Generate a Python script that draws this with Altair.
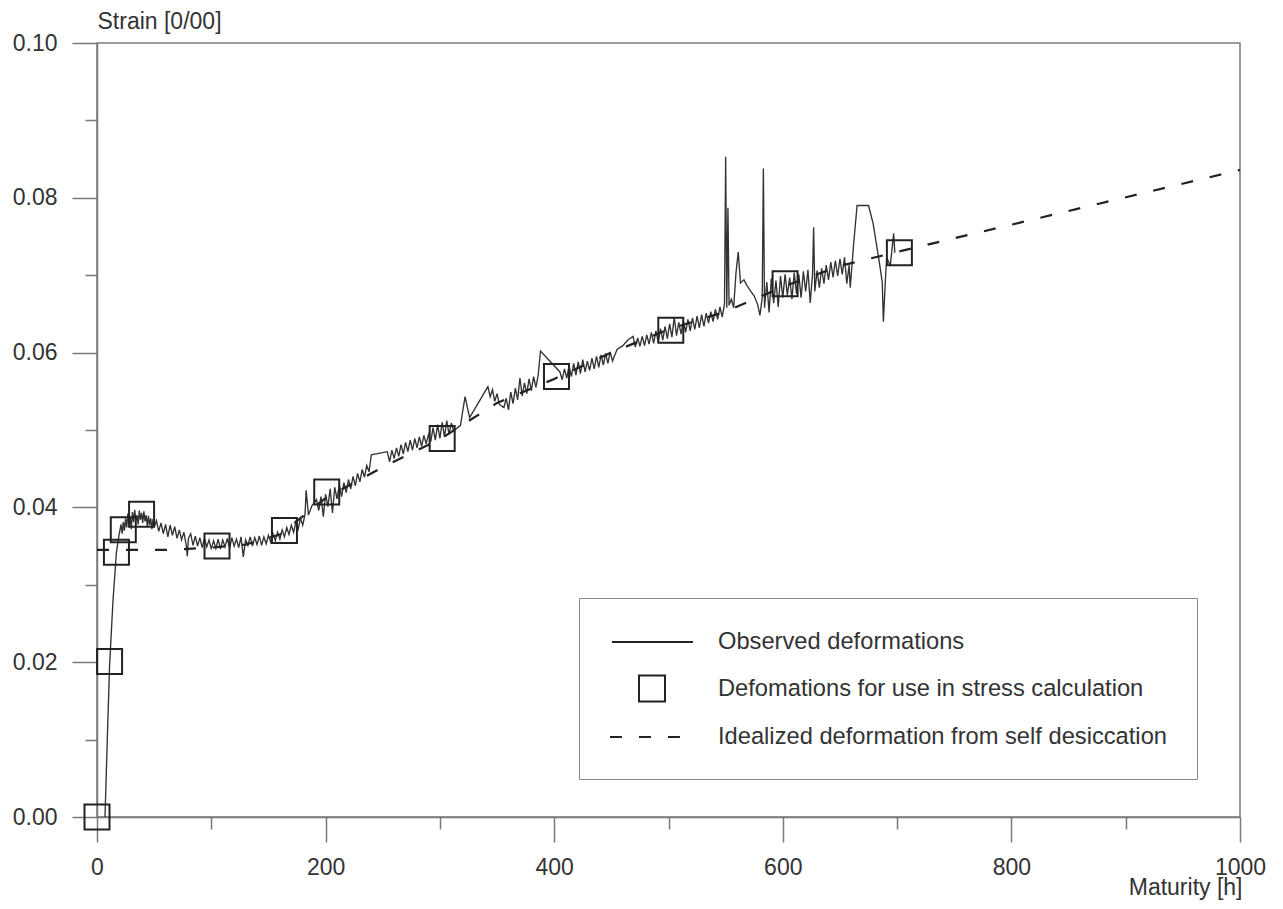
import altair as alt
import pandas as pd

# ---------------- data ----------------
# observed deformations (noisy measurement), split into segments
obs_rise = [(7,0.0000),(9,0.0100),(11,0.0195),(14,0.0280),(17,0.0342),(19,0.0362),(21,0.0378),(22,0.0366),(23,0.0381),(24,0.0370),(25,0.0386),(26,0.0374),(27,0.0392),(28,0.0379),(29,0.0388),(30,0.0372),(31,0.0394),(32,0.0381),(33,0.0397),(34,0.0383),(35,0.0390),(36,0.0378),(37,0.0396),(38,0.0384),(39,0.0393),(40,0.0380),(41,0.0395),(42,0.0382),(43,0.0390),(44,0.0375),(45,0.0389),(46,0.0377),(47,0.0386),(48,0.0372),(49,0.0385),(50,0.0374)]
obs_plateau = [(52,0.0383),(54,0.0369),(56,0.0380),(58,0.0366),(60,0.0378),(62,0.0362),(64,0.0377),(66,0.0364),(68,0.0375),(70,0.0360),(72,0.0371),(74,0.0358),(76,0.0368),(78,0.0352),(79,0.0337),(80,0.0360),(82,0.0366),(84,0.0351),(86,0.0363),(88,0.0350),(90,0.0361),(92,0.0348),(94,0.0360),(96,0.0349),(98,0.0358),(100,0.0346),(102,0.0357),(104,0.0347),(106,0.0359),(108,0.0346),(110,0.0358),(112,0.0349),(114,0.0360),(116,0.0347),(118,0.0361),(120,0.0350),(122,0.0359),(124,0.0348),(126,0.0362),(128,0.0336),(130,0.0358),(132,0.0351),(134,0.0362),(136,0.0350),(138,0.0361),(140,0.0352),(142,0.0363),(144,0.0351),(146,0.0362),(148,0.0353),(150,0.0364),(152,0.0355),(154,0.0366),(156,0.0357),(158,0.0368),(160,0.0359),(162,0.0371),(164,0.0362),(166,0.0374),(168,0.0365),(170,0.0377),(172,0.0368),(174,0.0381),(176,0.0372),(178,0.0386),(180,0.0377),(182,0.0391),(183,0.0422),(185,0.0390)]
obs_climb = [(188,0.0402),(192,0.0410),(194,0.0396),(196,0.0414),(198,0.0388),(200,0.0417),(202,0.0401),(204,0.0424),(206,0.0393),(208,0.0426),(210,0.0411),(212,0.0429),(214,0.0414),(216,0.0432),(218,0.0419),(220,0.0436),(222,0.0424),(224,0.0440),(226,0.0428),(228,0.0444),(230,0.0433),(232,0.0449),(234,0.0439),(236,0.0454),(238,0.0446),(240,0.0468),(254,0.0472),(256,0.0459),(258,0.0474),(260,0.0463),(262,0.0477),(264,0.0466),(266,0.0481),(268,0.0469),(270,0.0484),(272,0.0472),(274,0.0487),(276,0.0474),(278,0.0489),(280,0.0477),(282,0.0491),(284,0.0479),(286,0.0493),(288,0.0482),(290,0.0494),(292,0.0485),(294,0.0503),(296,0.0487),(298,0.0507),(300,0.0489),(302,0.0510),(304,0.0491),(306,0.0512),(308,0.0494),(310,0.0509),(312,0.0499)]
obs_steps = [(318,0.0506),(322,0.0543),(326,0.0516),(342,0.0556),(344,0.0543),(346,0.0552),(348,0.0537),(350,0.0547),(352,0.0533),(356,0.0529),(358,0.0541),(360,0.0526),(362,0.0549),(364,0.0534),(366,0.0554),(368,0.0539),(370,0.0567),(372,0.0544),(374,0.0561),(376,0.0547),(378,0.0566),(380,0.0551),(382,0.0569),(384,0.0555),(386,0.0571),(388,0.0602),(405,0.0575),(407,0.0565),(409,0.0579),(411,0.0567),(413,0.0583),(415,0.0569),(417,0.0586),(419,0.0571),(421,0.0588),(423,0.0573),(425,0.0591),(427,0.0575),(429,0.0589),(431,0.0577),(433,0.0593),(435,0.0579),(437,0.0595),(439,0.0581),(441,0.0597),(443,0.0584),(445,0.0599),(447,0.0586),(449,0.0601),(451,0.0589),(455,0.0604),(460,0.0609),(465,0.0617),(469,0.0621)]
obs_mid = [(471,0.0607),(473,0.0619),(475,0.0608),(477,0.0621),(479,0.0609),(481,0.0623),(483,0.0611),(485,0.0626),(487,0.0612),(489,0.0628),(491,0.0614),(493,0.0631),(495,0.0616),(497,0.0634),(499,0.0618),(501,0.0637),(503,0.0620),(505,0.0646),(507,0.0622),(509,0.0639),(511,0.0624),(513,0.0641),(515,0.0626),(517,0.0643),(519,0.0628),(521,0.0645),(523,0.0630),(525,0.0647),(527,0.0632),(529,0.0649),(531,0.0634),(533,0.0651),(535,0.0638),(537,0.0653),(539,0.0640),(541,0.0656),(543,0.0643),(545,0.0659),(547,0.0646),(549,0.0663)]
obs_spikes = [(550,0.0853),(551,0.0658),(552,0.0787),(553,0.0661),(555,0.0669),(557,0.0658),(559,0.0702),(561,0.0730),(563,0.0690),(566,0.0694),(569,0.0686),(572,0.0679),(575,0.0673),(578,0.0662),(580,0.0648),(582,0.0671),(583,0.0838),(584,0.0658),(586,0.0691),(588,0.0652),(590,0.0696),(592,0.0664),(594,0.0693),(596,0.0659),(598,0.0699),(600,0.0671),(602,0.0701),(604,0.0674),(606,0.0697),(608,0.0669),(610,0.0703),(612,0.0676),(614,0.0701),(616,0.0671),(618,0.0705),(620,0.0679),(622,0.0707),(624,0.0664),(626,0.0701),(627,0.0762),(628,0.0679),(630,0.0706),(632,0.0684),(634,0.0709),(636,0.0689),(638,0.0713),(640,0.0694),(642,0.0717),(644,0.0697),(646,0.0719),(648,0.0699),(650,0.0721),(652,0.0701),(654,0.0723),(656,0.0689),(658,0.0713),(659,0.0684)]
obs_bump = [(662,0.0741),(665,0.0790),(675,0.0790),(679,0.0767),(684,0.0721),(687,0.0691),(688,0.0640),(690,0.0701),(691,0.0723),(694,0.0712),(697,0.0754),(698,0.0729)]

# deformations for use in stress calculation (squares)
sq_x = [0, 11, 17, 23, 39, 105, 164, 201, 302, 402, 502, 602, 702]
sq_y = [0.0000, 0.0201, 0.0342, 0.0371, 0.0391, 0.0350, 0.0370, 0.0420, 0.0489, 0.0569, 0.0629, 0.0689, 0.0729]

# idealized deformation from self desiccation (dashed)
ideal_x = [0, 60, 100, 130, 160, 200, 250, 300, 350, 400, 450, 500, 550, 600, 650, 700, 1000]
ideal_y = [0.0345, 0.0345, 0.0348, 0.0352, 0.0365, 0.0412, 0.0452, 0.0488, 0.0535, 0.0566, 0.0600, 0.0630, 0.0653, 0.0685, 0.0712, 0.0730, 0.0836]

x_ticks = [0, 100, 200, 300, 400, 500, 600, 700, 800, 900, 1000]
y_ticks = [0.00, 0.01, 0.02, 0.03, 0.04, 0.05, 0.06, 0.07, 0.08, 0.09, 0.10]

legend_labels = ["Observed deformations",
                 "Defomations for use in stress calculation",
                 "Idealized deformation from self desiccation"]
legend_paths = ["M-0.85,0H5.38",
                "M1.23,-1H3.23V1H1.23Z",
                "M-1,0H-0.08M1.23,0H2.15M3.46,0H4.38"]

# ---------------- tables ----------------
obs_all = obs_rise + obs_plateau + obs_climb + obs_steps + obs_mid + obs_spikes + obs_bump
obs_df = pd.DataFrame({"x": [p[0] for p in obs_all], "y": [p[1] for p in obs_all],
                       "i": list(range(len(obs_all)))})
sq_df = pd.DataFrame({"x": sq_x, "y": sq_y, "series": legend_labels[1]})
ideal_df = pd.DataFrame({"x": ideal_x, "y": ideal_y})

FONT = "Liberation Sans"
FS = 23
AX = "#7a7a7a"
INK = "#222222"

xscale = alt.Scale(domain=[0, 1000], nice=False, zero=False)
yscale = alt.Scale(domain=[0, 0.10], nice=False, zero=False)

x_axis = alt.Axis(
    values=x_ticks,
    labelExpr="datum.value % 200 == 0 ? format(datum.value, 'd') : ''",
    tickSize={"condition": {"test": "datum.value % 200 == 0", "value": 25}, "value": 12},
    grid=False, domainColor=AX, domainWidth=1.5, tickColor=AX, tickWidth=1.5,
    labelFont=FONT, labelFontSize=FS, labelColor="#333", labelPadding=14,
    labelFlush=False, labelOverlap=False,
    title="Maturity [h]", titleFont=FONT, titleFontSize=FS, titleFontWeight="normal",
    titleColor="#333", titleAlign="right", titleBaseline="alphabetic",
    titleX=1145, titleY=77, titleAngle=0,
)
y_axis = alt.Axis(
    values=y_ticks,
    labelExpr="round(datum.value * 100) % 2 == 0 ? format(datum.value, '.2f') : ''",
    tickSize={"condition": {"test": "round(datum.value * 100) % 2 == 0", "value": 25}, "value": 12},
    grid=False, domainColor=AX, domainWidth=1.5, tickColor=AX, tickWidth=1.5,
    labelFont=FONT, labelFontSize=FS, labelColor="#333", labelPadding=15,
    labelOverlap=False, labelFlush=False,
    title="Strain [0/00]", titleFont=FONT, titleFontSize=FS, titleFontWeight="normal",
    titleColor="#333", titleAngle=0, titleAlign="left", titleBaseline="alphabetic",
    titleX=0, titleY=-15,
)

observed = alt.Chart(obs_df).mark_line(color="#333333", strokeWidth=1.35).encode(
    x=alt.X("x:Q", scale=xscale, axis=x_axis),
    y=alt.Y("y:Q", scale=yscale, axis=y_axis),
    order="i:Q",
)

ideal = alt.Chart(ideal_df).mark_line(color=INK, strokeWidth=2.2, strokeDash=[12, 17]).encode(
    x=alt.X("x:Q", scale=xscale),
    y=alt.Y("y:Q", scale=yscale),
)

squares = alt.Chart(sq_df).mark_point(shape="square", filled=False, size=625,
                                      color=INK, strokeWidth=2, opacity=1).encode(
    x=alt.X("x:Q", scale=xscale),
    y=alt.Y("y:Q", scale=yscale),
)

legend_layer = alt.Chart(sq_df).transform_filter("false").mark_point(
    filled=False, color=INK, strokeWidth=2).encode(
    x=alt.X("x:Q", scale=xscale),
    y=alt.Y("y:Q", scale=yscale),
    shape=alt.Shape("series:N",
                    scale=alt.Scale(domain=legend_labels, range=legend_paths),
                    legend=alt.Legend(
                        orient="none", legendX=482, legendY=555, title=None,
                        padding=30, strokeColor="#888", fillColor="white",
                        symbolSize=676, symbolStrokeWidth=2, symbolStrokeColor=INK,
                        symbolFillColor="transparent", symbolOpacity=1,
                        labelFont=FONT, labelFontSize=23.7, labelColor="#333",
                        labelOffset=81, labelLimit=1000, rowPadding=17.5,
                    )),
)

chart = alt.layer(observed, ideal, squares, legend_layer).properties(
    width=1143, height=774,
    autosize=alt.AutoSizeParams(type="none"),
    padding={"left": 89, "top": 35, "right": 35, "bottom": 100},
    background="white",
).configure_view(stroke=AX, strokeWidth=1.5)

chart.save("out.html", embed_options={"renderer": "svg", "actions": False})
